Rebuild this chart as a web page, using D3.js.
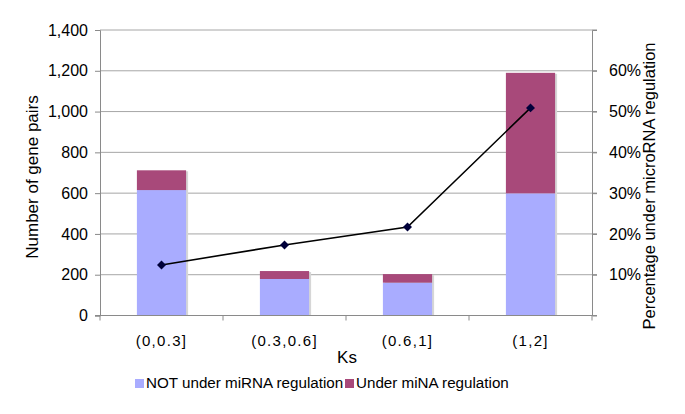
<!DOCTYPE html>
<html>
<head>
<meta charset="utf-8">
<script src="https://cdn.jsdelivr.net/npm/d3@7"></script>
<style>
  body { margin: 0; background: #fff; }
  svg { font-family: "Liberation Sans", Arial, Helvetica, sans-serif; }
</style>
</head>
<body>
<svg id="chart" width="685" height="414"></svg>
<script>
const categories = ["(0,0.3]", "(0.3,0.6]", "(0.6,1]", "(1,2]"];
const notUnder = [615, 179, 161, 599];
const under = [97, 39, 42, 591];
const percentUnder = [0.124, 0.173, 0.217, 0.509];
const leftTicks = [0, 200, 400, 600, 800, 1000, 1200, 1400];
const rightTicks = [0.1, 0.2, 0.3, 0.4, 0.5, 0.6];
const seriesNames = ["NOT under miRNA regulation", "Under miNA regulation"];

const colors = { not: "#a9acff", under: "#a8497a" };
const svg = d3.select("#chart");
const m = { left: 100, right: 592, top: 30, bottom: 315.5 };

const x = d3.scaleBand().domain(categories).range([m.left, m.right]).paddingInner(0.6).paddingOuter(0.3);
const xb = d3.scaleBand().domain(categories).range([m.left, m.right]);
const y = d3.scaleLinear().domain([0, 1400]).range([m.bottom, m.top]);
const y2 = d3.scaleLinear().domain([0, 0.7]).range([m.bottom, m.top]);

// gridlines
svg.append("g").selectAll("line").data(leftTicks.filter(d => d > 0)).join("line")
  .attr("x1", m.left).attr("x2", m.right)
  .attr("y1", d => y(d)).attr("y2", d => y(d))
  .attr("stroke", "#a6a6a6").attr("stroke-width", 1);

// stacked bars
const rows = categories.map((c, i) => ({ c, not: notUnder[i], under: under[i] }));
const stack = d3.stack().keys(["not", "under"])(rows);
// shadow
svg.append("g").selectAll("rect").data(rows).join("rect")
  .attr("x", d => x(d.c) + 2).attr("width", x.bandwidth())
  .attr("y", d => y(d.not + d.under) + 1).attr("height", d => m.bottom - y(d.not + d.under) - 1)
  .attr("fill", "#d6d6d6");
stack.forEach(s => {
  svg.append("g").selectAll("rect").data(s).join("rect")
    .attr("x", d => x(d.data.c)).attr("width", x.bandwidth())
    .attr("y", d => y(d[1])).attr("height", d => y(d[0]) - y(d[1]))
    .attr("fill", colors[s.key]);
});

// left axis
const gl = svg.append("g").attr("transform", `translate(${m.left},0)`)
  .call(d3.axisLeft(y).tickValues(leftTicks).tickFormat(d3.format(",")).tickSize(5).tickPadding(7));
gl.select(".domain").attr("stroke", "#8a8a8a");
gl.selectAll(".tick line").attr("stroke", "#8a8a8a");
gl.selectAll("text").attr("font-size", 16).attr("fill", "#000").attr("font-family", "Liberation Sans, Arial, sans-serif");

// right axis
const gr = svg.append("g").attr("transform", `translate(${m.right},0)`)
  .call(d3.axisRight(y2).tickValues(rightTicks).tickFormat(d3.format(".0%")).tickSize(5).tickPadding(12));
gr.select(".domain").attr("stroke", "#8a8a8a");
gr.selectAll(".tick line").attr("stroke", "#8a8a8a");
gr.selectAll("text").attr("font-size", 16).attr("fill", "#000").attr("font-family", "Liberation Sans, Arial, sans-serif");
// extra right ticks at gridline positions
svg.append("g").selectAll("line").data(leftTicks).join("line")
  .attr("x1", m.right).attr("x2", m.right + 5)
  .attr("y1", d => y(d)).attr("y2", d => y(d)).attr("stroke", "#8a8a8a");

// bottom axis
svg.append("line").attr("x1", m.left - 5).attr("x2", m.right)
  .attr("y1", m.bottom).attr("y2", m.bottom).attr("stroke", "#8a8a8a");
svg.append("g").selectAll("line").data(categories.concat(["end"])).join("line")
  .attr("x1", (d, i) => i < categories.length ? xb(d) : m.right)
  .attr("x2", (d, i) => i < categories.length ? xb(d) : m.right)
  .attr("y1", m.bottom).attr("y2", m.bottom + 5).attr("stroke", "#8a8a8a");
svg.append("g").selectAll("text").data(categories).join("text")
  .attr("x", d => xb(d) + xb.bandwidth() / 2).attr("y", 346)
  .attr("text-anchor", "middle").attr("font-size", 15).attr("letter-spacing", 1.3)
  .text(d => d);

// line
const cx = c => x(c) + x.bandwidth() / 2;
svg.append("path")
  .datum(categories.map((c, i) => [cx(c), y2(percentUnder[i])]))
  .attr("d", d3.line()).attr("fill", "none").attr("stroke", "#000").attr("stroke-width", 1.6);
svg.append("g").selectAll("path").data(categories).join("path")
  .attr("transform", (c, i) => `translate(${cx(c)},${y2(percentUnder[i])}) rotate(45)`)
  .attr("d", d3.symbol(d3.symbolSquare, 40)())
  .attr("fill", "#00003a");

// axis titles
svg.append("text").attr("x", 347).attr("y", 363).attr("text-anchor", "middle")
  .attr("font-size", 17).text("Ks");
svg.append("text").attr("transform", "translate(38,177) rotate(-90)")
  .attr("text-anchor", "middle").attr("font-size", 17).text("Number of gene pairs");
svg.append("text").attr("transform", "translate(655,186) rotate(-90)")
  .attr("text-anchor", "middle").attr("font-size", 16.5).text("Percentage under microRNA regulation");

// legend
const legX = [135, 345];
const lg = svg.append("g");
seriesNames.forEach((n, i) => {
  lg.append("rect").attr("x", legX[i]).attr("y", 379).attr("width", 9).attr("height", 9)
    .attr("fill", i === 0 ? colors.not : colors.under);
  lg.append("text").attr("x", legX[i] + 11).attr("y", 388).attr("font-size", 15.2).text(n);
});
</script>
</body>
</html>
